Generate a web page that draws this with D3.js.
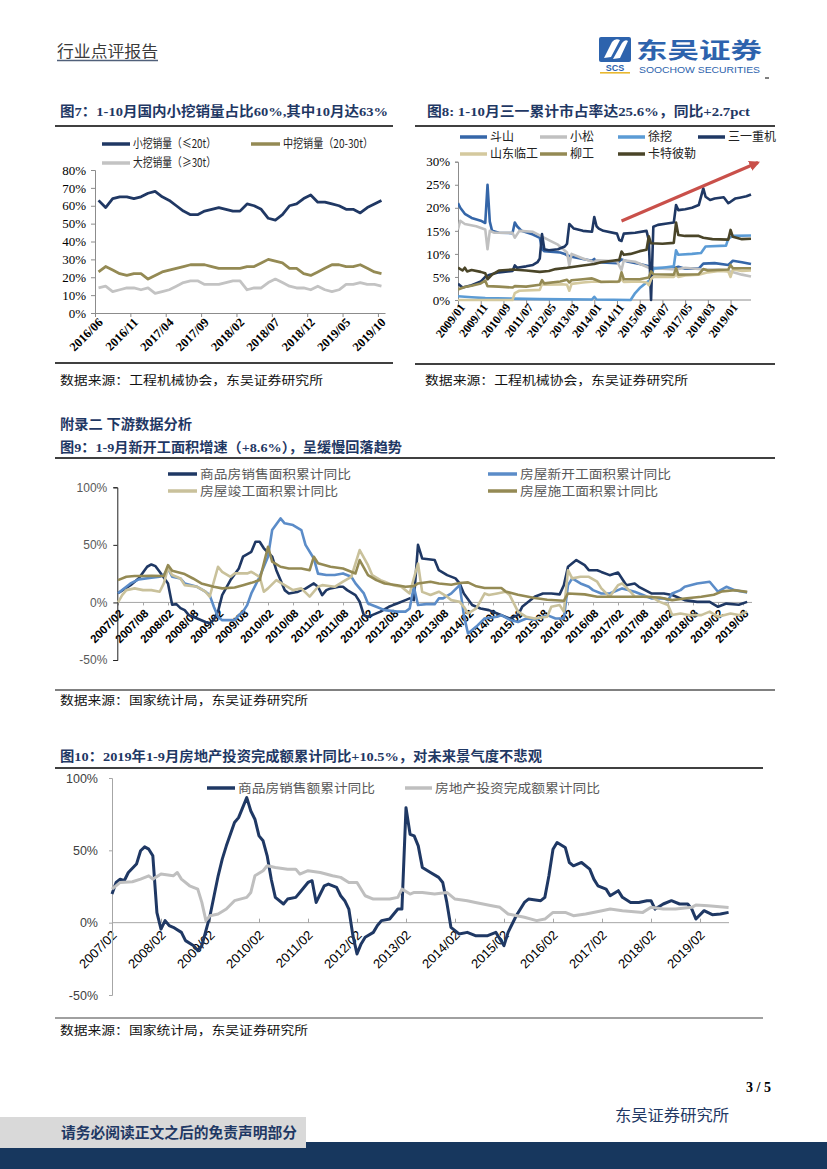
<!DOCTYPE html>
<html><head><meta charset="utf-8">
<script src="https://cdn.jsdelivr.net/npm/d3@7/dist/d3.min.js"></script>
<style>body{margin:0;background:#fff}svg{display:block}</style>
</head><body>
<script>
// ---------------- DATA ----------------
// Fig 7: monthly share of excavator sales by size, 2016/06 .. 2019/10 (41 months, %)
const c7Ticks = ["2016/06","2016/11","2017/04","2017/09","2018/02","2018/07","2018/12","2019/05","2019/10"];
const c7Small = [63,59,64,65,65,64,65,67,68,65,63,60,57,55,55,57,58,59,58,57,57,61,60,58,53,52,55,60,61,64,66,62,62,61,60,58,58,56,59,61,63];
const c7Mid   = [23,26,24,22,21,22,22,19,21,23,24,25,26,27,27,27,26,25,25,25,25,26,26,28,30,29,28,25,25,22,21,23,25,27,27,26,26,27,25,23,22];
const c7Large = [14,15,12,13,14,14,13,14,11,12,13,15,17,18,18,16,16,16,17,18,18,13,14,14,17,19,17,15,14,14,13,15,13,12,13,16,16,17,16,16,15];
const c7Names = ["小挖销量（≤20t）","中挖销量（20-30t）","大挖销量（≥30t）"];

// Fig 8: market share (%), [months since 2009/01, value]
const c8Ticks = ["2009/01","2009/11","2010/09","2011/07","2012/05","2013/03","2014/01","2014/11","2015/09","2016/07","2017/05","2018/03","2019/01"];
const c8Names = ["斗山","小松","徐挖","三一重机","山东临工","柳工","卡特彼勒"];
const c8Doosan = [[0,21],[1,20],[3,18.7],[6,17.8],[10,17.2],[12,16.7],[13,25],[14,17],[15,15],[18,14.6],[24,14.5],[25,16.8],[26,16],[28,15],[33,14.2],[36,13.5],[37,11],[38,10.6],[45,10.3],[47,10],[48,9.7],[50,9.4],[55,8.9],[59,8.5],[60,8.9],[61,8.2],[70,8],[72,8.8],[75,8.3],[80,7.8],[84,7.3],[86,7],[95,6.9],[97,7.2],[100,6.8],[106,6.8],[108,7.9],[113,8],[119,7.6],[121,8.5],[125,8.2],[129,7.8]];
const c8Komatsu = [[0,15.3],[1,17.2],[3,16.5],[8,16],[12,15.3],[13,11],[14,15],[16,14.6],[24,14.6],[25,13.5],[27,15],[33,14.8],[36,14],[40,13],[44,12],[48,10.3],[49,7.5],[50,10],[55,9],[60,8.2],[61,8.6],[70,8.4],[72,6.5],[73,8.6],[78,8.3],[84,7],[90,6.8],[96,6.6],[100,7],[108,6.6],[115,6.6],[120,6.2],[125,5.5],[129,5.1]];
const c8Xugong = [[0,0.8],[6,0.6],[12,0.4],[24,0.3],[36,0.2],[59,0.1],[60,0.7],[61,0.1],[76,0],[78,1.5],[80,2.6],[83,3.8],[85,4.5],[86,6.8],[90,7],[95,7.3],[96,10.8],[97,9.8],[103,10],[107,10.2],[109,11.6],[118,11.8],[119,13.3],[121,13.9],[129,14]];
const c8Sany = [[0,3.5],[2,2.7],[6,3.2],[10,4],[12,5],[14,5.5],[18,6],[24,6.3],[25,7.5],[26,7],[30,7.3],[33,7.6],[35,8.2],[36,9],[37,14.3],[38,11],[40,10.8],[44,11],[47,11.6],[48,12.2],[49,16.5],[51,15.5],[55,15],[59,14.8],[60,18],[61,16],[62,15.5],[64,15],[70,14.4],[71,13],[72,12.8],[73,14.4],[78,14.6],[83,15],[84,13],[85,0],[86,15.9],[88,16.3],[92,16.6],[95,16.8],[96,20.6],[97,19.5],[100,19.7],[103,20],[106,20.6],[108,24.2],[109,22.4],[111,21.7],[113,22],[117,22.3],[119,21],[120,21.3],[122,22],[124,22.2],[127,22.5],[129,22.9]];
const c8Lingong = [[0,0],[24,0],[25,1.5],[27,2],[36,2.2],[37,3.5],[38,3.3],[46,3.4],[48,3.3],[49,2],[50,3.5],[55,3.8],[60,4],[70,3.9],[72,4.5],[73,3.9],[80,4],[83,3.8],[84,3.2],[85,4.5],[86,5],[95,5],[96,5.6],[97,5],[100,5.3],[106,5.5],[110,6],[115,6.3],[119,6.2],[120,5],[121,6.6],[125,6.3],[129,6.4]];
const c8Liugong = [[0,2.3],[3,2.8],[6,3.1],[10,3.6],[12,4.2],[13,3],[18,2.9],[24,2.7],[25,3],[30,2.9],[36,3.3],[37,4.3],[38,3.6],[45,4],[48,4.4],[49,3.8],[50,4.3],[55,4.5],[59,4.7],[60,4.5],[63,3.9],[71,4],[72,6],[73,4.5],[80,4.5],[84,4.9],[85,6.2],[86,5.6],[95,5.5],[96,6.9],[97,5.5],[106,5.6],[108,6.7],[110,6.4],[119,6.6],[120,7.6],[121,6.9],[129,6.9]];
const c8Cat = [[0,7],[2,6.4],[3,7],[4,6.2],[6,6.5],[10,6.1],[12,5.8],[13,4.5],[15,5.5],[18,6.4],[24,6.6],[30,6.4],[36,6.1],[40,6.3],[43,6.7],[48,7],[55,7.5],[60,7.8],[63,8.2],[68,8.5],[71,8.7],[72,10.5],[73,9.8],[76,10],[80,10.6],[83,10.9],[84,13.8],[85,12.3],[90,12.2],[95,12.4],[96,16.8],[97,14.1],[100,13.9],[106,13.9],[108,13.5],[112,13.2],[119,13.1],[120,15.2],[121,13.7],[125,13.2],[129,13.3]];

// Fig 9: YoY (%), [months since 2007/02, value]
const c9Ticks = ["2007/02","2007/08","2008/02","2008/08","2009/02","2009/08","2010/02","2010/08","2011/02","2011/08","2012/02","2012/08","2013/02","2013/08","2014/02","2014/08","2015/02","2015/08","2016/02","2016/08","2017/02","2017/08","2018/02","2018/08","2019/02","2019/08"];
const c9Names = ["商品房销售面积累计同比","房屋新开工面积累计同比","房屋竣工面积累计同比","房屋施工面积累计同比"];
const c9Sales = [[0,8],[3,15],[5,21],[7,31],[8,33],[9,31.5],[10,26.6],[12,16.5],[13,-2],[14,-1.5],[15,-5],[16,-6.7],[17,-11],[19,-14],[21,-17],[22,-18],[23,-15],[24,-8],[25,6.4],[27,19.4],[29,29.5],[30,39.7],[32,44],[33,52.7],[34,52.7],[35,47],[37,39.7],[38,28],[39,19.4],[40,10.7],[41,7.8],[43,9],[44,10.7],[45,12],[47,16.5],[48,13.6],[49,6.4],[50,10.7],[51,12.2],[53,13.6],[54,13.6],[55,10.7],[57,6.4],[58,0.6],[59,-11],[60,-12.5],[61,-11],[63,-8],[65,-3.8],[66,-2.3],[67,-0.9],[69,2],[70,3.5],[71,2],[72,50],[73,38.2],[76,36.8],[77,28],[79,23.7],[81,20.9],[82,16.5],[83,7.8],[85,-2.3],[87,-5.2],[89,-6.7],[91,-9.6],[94,-13.9],[96,-11],[97,-3.8],[100,4.9],[102,7.8],[104,7.8],[106,7],[107,15],[108,31],[110,36.8],[112,32.4],[113,28],[115,28],[116,26.5],[118,23.7],[120,26],[122,15],[124,16.5],[125,13.6],[128,7.8],[131,7.8],[133,6.4],[136,2],[139,0.5],[142,0.5],[144,-3.8],[146,-1],[149,-2],[151,0.5]];
const c9Starts = [[0,8],[3,16.5],[5,20],[8,21.4],[10,22.3],[11,23.8],[12,29.5],[13,22.3],[15,20.8],[16,16.5],[19,13.6],[21,9.3],[22,6.4],[23,-3.8],[24,-12.5],[25,-15.4],[28,-15.4],[29,-11],[30,-8],[31,-2.3],[32,7.8],[34,22.3],[36,39.7],[37,62.9],[39,73],[40,68.7],[42,67.2],[44,62.9],[45,50],[47,38.2],[48,25],[50,23.8],[52,23.8],[54,25.2],[56,22.3],[57,16.5],[59,7.8],[60,-0.9],[62,-3.8],[64,-6.7],[67,-8],[69,-8],[70,-5.2],[71,13.6],[72,-2.3],[74,-1.5],[76,-1.5],[77,3.5],[78,3.5],[80,7.8],[82,15],[83,-11],[84,-27],[86,-21],[88,-14],[91,-12.5],[92,-11],[94,-15],[96,-17],[98,-14],[100,-15],[103,-11],[105,-14],[107,-14],[108,15],[109,20.9],[111,16.5],[113,13.6],[114,10.7],[116,7.8],[118,7.8],[121,12.2],[124,9.3],[126,6.4],[128,3.5],[131,3.5],[132,2],[133,7.8],[135,10.7],[136,13.6],[139,16.5],[142,18],[144,9.3],[146,13.6],[148,10.7],[151,8.6]];
const c9Completed = [[0,0],[1,6.4],[2,10.7],[4,12.2],[6,10.7],[8,10.7],[10,9.3],[11,16.5],[12,30],[13,23.8],[15,20.8],[16,15],[19,13.6],[21,9.3],[22,5],[24,31],[25,26.6],[27,22.3],[28,25.2],[31,25.2],[32,26.6],[34,22.3],[35,9.3],[36,12.2],[38,19.4],[40,15],[42,10.7],[44,12.2],[46,5],[48,13.6],[49,15],[52,13.6],[54,18],[56,22.3],[58,45.5],[60,32.4],[61,23.8],[63,19.4],[64,18],[66,15],[68,13.6],[69,10.7],[70,7.8],[72,33.8],[73,9.2],[75,6.4],[77,9.3],[79,5],[80,2],[82,0.5],[83,-3.8],[84,-9.6],[86,-5.2],[88,7.8],[89,6.4],[91,7.8],[93,9.3],[94,6.4],[96,-8],[98,-12.5],[100,-14],[103,-12.5],[104,-3.8],[106,-2.3],[107,-8],[108,28],[109,20.9],[111,22.3],[113,22.3],[115,18],[116,12.2],[118,5],[120,15],[121,16.5],[123,9.3],[124,5],[128,5],[130,0.5],[132,-2.3],[133,-11],[135,-9.6],[137,-11],[140,-11],[142,-8],[144,-12.5],[147,-9.6],[149,-11],[151,-8]];
const c9UnderConstr = [[0,19.4],[2,22.3],[4,22.9],[6,22.9],[8,23.2],[11,23],[12,32.4],[13,27.5],[16,24.6],[18,20.8],[20,16.5],[23,13.6],[25,12.2],[28,13],[30,15],[32,17],[34,19.4],[36,48.4],[37,35.4],[39,31],[41,29.5],[44,29.5],[46,28],[47,39.7],[48,34],[51,31],[54,29.5],[57,25.2],[58,36.8],[60,23.8],[62,19.4],[64,16.5],[67,15],[69,13.6],[71,14.2],[72,16.5],[75,18],[77,16.5],[80,15.4],[82,16.9],[84,17.4],[86,14],[88,12.5],[92,12.5],[93,9.6],[96,6.7],[100,3.8],[103,2.3],[107,1.4],[108,7.8],[112,7],[115,5],[118,4.9],[126,4.9],[130,4.3],[133,2],[136,3.4],[140,4.9],[143,6.7],[145,9.6],[148,10.6],[151,9.2]];

// Fig 10: YoY (%), [months since 2007/02, value]
const c10Ticks = ["2007/02","2008/02","2009/02","2010/02","2011/02","2012/02","2013/02","2014/02","2015/02","2016/02","2017/02","2018/02","2019/02"];
const c10Names = ["商品房销售额累计同比","房地产投资完成额累计同比"];
const c10Sales = [[0,19.8],[1,27.8],[2,30],[3,29],[4,34.7],[6,40.5],[7,49.7],[8,52.4],[9,50.8],[10,46.2],[11,7],[12,-4.4],[13,1.4],[14,-2],[15,-3.2],[17,-6.7],[18,-12.4],[20,-15.9],[21,-19.3],[22,-15.9],[24,4.8],[25,18.6],[26,32.4],[27,43.9],[28,53.1],[30,69.2],[31,72.6],[32,79.5],[33,86.4],[34,77.2],[35,71.5],[36,60],[37,56.6],[38,46.2],[39,30],[40,17.5],[42,12.9],[43,16.3],[45,17.5],[46,20.9],[48,27.8],[49,29],[50,14],[51,19.8],[52,25.5],[53,26.7],[55,24.4],[56,18.6],[57,15.2],[58,9.4],[59,-9],[60,-21.6],[61,-14.7],[62,-10.1],[64,-6.7],[65,-2],[66,1.4],[68,2.5],[69,6],[70,9.4],[71,9.4],[72,79.5],[73,61.1],[74,60],[75,53.1],[76,38.2],[78,34.7],[80,31.3],[81,27.8],[82,14],[83,-3.2],[85,-7.8],[87,-6.7],[89,-9],[92,-9],[94,-6.7],[95,-11.3],[96,-15.9],[97,-6.7],[99,4.8],[101,14],[102,16.3],[105,15.2],[106,17.5],[107,32.4],[108,50.8],[109,55.4],[111,52],[112,41.6],[113,39.3],[115,41.6],[117,37],[118,30.1],[119,25.5],[121,23.2],[122,18.6],[124,22.1],[125,17.5],[127,14],[129,14],[131,15.2],[132,15.2],[133,9.4],[135,12.9],[137,15.2],[139,12.9],[141,12.9],[142,9.4],[143,2.5],[145,8.3],[147,5.5],[149,6],[151,7.1]];
const c10Invest = [[0,23.2],[2,27.8],[5,28.3],[7,30.1],[9,32.4],[10,30.1],[12,33.6],[15,32.4],[16,34.7],[17,30.1],[19,25.5],[21,23.2],[22,14],[23,1.4],[24,4.8],[26,6],[28,9.4],[30,15.2],[33,17.5],[34,20.9],[35,32.4],[37,35.9],[38,39.3],[40,38.2],[43,37],[45,37],[46,33.6],[48,35.9],[51,34.7],[54,32.4],[56,31.3],[58,27.8],[60,27.8],[62,18.6],[64,16.3],[68,16.3],[70,17.5],[71,23.2],[73,19.8],[74,20.9],[76,20.9],[79,19.8],[82,20.9],[84,16.3],[87,15.2],[89,14],[93,11.7],[95,10.6],[97,6],[101,3.7],[104,1.4],[106,2.5],[108,7.1],[111,7.1],[113,4.8],[116,6],[120,8.3],[122,9.4],[125,8.3],[130,7.1],[132,10.6],[135,9.4],[138,9.4],[142,10.6],[143,12.2],[146,11.7],[151,10.5]];

// ---------------- DRAWING ----------------
const CJK = "'Noto Sans CJK SC','Noto Sans',sans-serif";
const SERIF = "'Liberation Serif','Noto Sans CJK SC',serif";
const SANS = "'Liberation Sans',Arial,sans-serif";
const NAVY = "#1f3864";

const svg = d3.select("body").append("svg").attr("width",827).attr("height",1169);

function txt(x,y,s,o={}){
  const t = svg.append("text").attr("x",x).attr("y",y).text(s)
    .attr("font-size",o.size||12).attr("fill",o.fill||"#000")
    .attr("font-weight",o.weight||"normal").attr("font-family",o.family||CJK)
    .attr("text-anchor",o.anchor||"start");
  if(o.len) t.attr("textLength",o.len).attr("lengthAdjust","spacingAndGlyphs");
  return t;
}
function hline(x1,x2,y,c,w){
  svg.append("line").attr("x1",x1).attr("x2",x2).attr("y1",y).attr("y2",y).attr("stroke",c).attr("stroke-width",w);
}
function legendItem(x1,x2,y,color,w,label,o){
  svg.append("line").attr("x1",x1).attr("x2",x2).attr("y1",y).attr("y2",y).attr("stroke",color).attr("stroke-width",w);
  txt(x2+(o.gap||3), y+(o.size||12)*0.36, label, o);
}
function styleAxis(g,o){
  g.select(".domain").attr("stroke",o.dom||"#888").attr("stroke-width",o.domW||1);
  g.selectAll(".tick line").attr("stroke",o.dom||"#888");
  g.selectAll("text").attr("font-family",o.family).attr("font-size",o.size).attr("fill",o.fill||"#000")
    .attr("font-weight",o.weight||"normal");
}
function rotLabels(g,dx,dy,ang){
  g.selectAll(".tick text").attr("x",0).attr("y",0).attr("dy","0.35em")
    .attr("transform",`translate(${dx},${dy}) rotate(${ang})`).style("text-anchor","end");
}

// ---- Header ----
txt(57,57,"行业点评报告",{size:15.5,fill:"#3a3a3a",len:101});
hline(57,158,60.5,"#50607a",1.6);
const logo = svg.append("g");
logo.append("rect").attr("x",599).attr("y",37).attr("width",32).attr("height",25).attr("rx",2).attr("fill","#2d63ad");
logo.append("path").attr("d","M604,58 L612,42 Q615,38 620,40 L611,57 Z M613,59 L622,43 Q625,39 628,41 L620,58 Z").attr("fill","#fff");
logo.append("text").attr("x",615).attr("y",71).attr("text-anchor","middle").attr("font-family",SANS).attr("font-weight","bold").attr("font-size",9).attr("fill","#2d63ad").text("SCS");
logo.append("rect").attr("x",600).attr("y",72).attr("width",30).attr("height",1.6).attr("fill","#e8b830");
txt(636,58,"东吴证券",{size:22,weight:"bold",fill:"#2d63ad",len:126});
txt(639,73,"SOOCHOW SECURITIES",{size:9,family:SANS,fill:"#2d63ad",len:121});
hline(765,769,78,"#000",1);

// ---- Figure 7 ----
txt(60,116,"图7：1-10月国内小挖销量占比60%,其中10月达63%",{size:13.5,weight:"bold",fill:NAVY,len:328,family:SERIF});
hline(55,393,126,"#000",1.3);
{
  const x = d3.scaleLinear().domain([0,c7Small.length]).range([95,385]);
  const y = d3.scaleLinear().domain([0,80]).range([313,170]);
  const gy = svg.append("g").attr("transform","translate(95,0)")
    .call(d3.axisLeft(y).tickValues(d3.range(0,81,10)).tickFormat(d=>d+"%").tickSize(4).tickPadding(5));
  styleAxis(gy,{family:SERIF,size:13,dom:"#8c8c8c"});
  const gx = svg.append("g").attr("transform","translate(0,313)")
    .call(d3.axisBottom(x).tickValues(d3.range(0,41,5)).tickFormat((d,i)=>c7Ticks[i]).tickSize(4).tickSizeOuter(0));
  styleAxis(gx,{family:SERIF,size:12.5,dom:"#8c8c8c",weight:"bold"});
  rotLabels(gx,5,7,-45);
  const series = [[c7Small,"#203864"],[c7Mid,"#948a54"],[c7Large,"#c3c3c3"]];
  const line = d3.line().x((d,i)=>x(i+0.5)).y(d=>y(d));
  series.slice().reverse().forEach(([data,c])=>{
    svg.append("path").attr("d",line(data)).attr("fill","none").attr("stroke",c).attr("stroke-width",2.8).attr("stroke-linejoin","round");
  });
  legendItem(102,130,144,"#203864",3.5,c7Names[0],{size:12,len:83,fill:"#222"});
  legendItem(251,280,144,"#948a54",3.5,c7Names[1],{size:12,len:90,fill:"#222"});
  legendItem(102,130,163,"#c3c3c3",3.5,c7Names[2],{size:12,len:83,fill:"#222"});
}
hline(55,393,363,"#000",1.3);
txt(60,384.5,"数据来源：工程机械协会，东吴证券研究所",{size:12,len:263,fill:"#111"});

// ---- Figure 8 ----
txt(427,116,"图8:  1-10月三一累计市占率达25.6%，同比+2.7pct",{size:13.5,weight:"bold",fill:NAVY,len:323,family:SERIF});
hline(415,775,126,"#000",1.3);
{
  const x = d3.scaleLinear().domain([0,129]).range([458,751]);
  const y = d3.scaleLinear().domain([0,30]).range([300,161.7]);
  const gy = svg.append("g").attr("transform","translate(458,0)")
    .call(d3.axisLeft(y).tickValues(d3.range(0,31,5)).tickFormat(d=>d+"%").tickSize(3).tickPadding(5));
  styleAxis(gy,{family:SERIF,size:13,dom:"#8c8c8c"});
  const gx = svg.append("g").attr("transform","translate(0,300)")
    .call(d3.axisBottom(x).tickValues(d3.range(0,121,10)).tickFormat((d,i)=>c8Ticks[i]).tickSize(4).tickSizeOuter(0));
  styleAxis(gx,{family:SERIF,size:12,dom:"#8c8c8c",weight:"bold"});
  gx.select(".domain").attr("d","M458,0H751");
  rotLabels(gx,4,5,-52);
  const cols = ["#3566a8","#c0c0c0","#5b9bd5","#1f3864","#d4c99e","#948a54","#4a4528"];
  const datas = [c8Doosan,c8Komatsu,c8Xugong,c8Sany,c8Lingong,c8Liugong,c8Cat];
  const line = d3.line().x(d=>x(d[0])).y(d=>y(d[1]));
  svg.append("clipPath").attr("id","c8clip").append("rect").attr("x",458).attr("y",150).attr("width",300).attr("height",152);
  datas.forEach((d,i)=>{
    svg.append("path").attr("d",line(d)).attr("fill","none").attr("stroke",cols[i]).attr("stroke-width",2.6).attr("stroke-linejoin","round").attr("clip-path","url(#c8clip)");
  });
  const lx = [460,540,618,698];
  c8Names.forEach((n,i)=>{
    const row = i<4?0:1;
    const xx = lx[i<4?i:(i-4)];
    legendItem(xx,xx+27,row?154:137,cols[i],3.5,n,{size:12,fill:"#222",gap:3});
  });
  // trend arrow
  svg.append("defs").append("marker").attr("id","arr").attr("viewBox","0 0 10 10").attr("refX",8).attr("refY",5)
    .attr("markerWidth",3.6).attr("markerHeight",3.6).attr("orient","auto")
    .append("path").attr("d","M0,0 L10,5 L0,10 Z").attr("fill","#c9504a");
  svg.append("line").attr("x1",621.5).attr("y1",221).attr("x2",758).attr("y2",162.5).attr("stroke","#c9504a").attr("stroke-width",3).attr("marker-end","url(#arr)");
}
hline(415,775,364,"#000",1.3);
txt(425,384.5,"数据来源：工程机械协会，东吴证券研究所",{size:12,len:263,fill:"#111"});

// ---- Figure 9 ----
txt(60,428.5,"附录二  下游数据分析",{size:13.5,weight:"bold",fill:NAVY,len:132,family:SERIF});
txt(60,451.5,"图9：1-9月新开工面积增速（+8.6%），呈缓慢回落趋势",{size:13.5,weight:"bold",fill:NAVY,len:342,family:SERIF});
hline(55,775,458,"#000",1.3);
{
  const x = d3.scaleLinear().domain([0,150]).range([118,743]);
  const y = d3.scaleLinear().domain([-50,100]).range([660,487.3]);
  const gx = svg.append("g").attr("transform",`translate(0,${y(0)})`)
    .call(d3.axisBottom(x).tickValues(d3.range(0,151,6)).tickFormat((d,i)=>c9Ticks[i]).tickSize(3).tickSizeOuter(0));
  styleAxis(gx,{family:SANS,size:11.5,dom:"#a6a6a6",weight:"bold"});
  gx.select(".domain").attr("d","M117,0H752");
  rotLabels(gx,3,9,-45);
  const gy = svg.append("g").attr("transform","translate(117.3,0)")
    .call(d3.axisLeft(y).tickValues([-50,0,50,100]).tickFormat(d=>d+"%").tickSize(4).tickPadding(6));
  styleAxis(gy,{family:SANS,size:12,dom:"#222",fill:"#595959"});
  const cols = ["#1f3864","#5b8cc8","#c9c19b","#948a54"];
  const datas = [c9Sales,c9Starts,c9Completed,c9UnderConstr];
  const line = d3.line().x(d=>x(d[0])).y(d=>y(d[1]));
  datas.forEach((d,i)=>{
    svg.append("path").attr("d",line(d)).attr("fill","none").attr("stroke",cols[i]).attr("stroke-width",2.6).attr("stroke-linejoin","round");
  });
  const o = {size:12.5,fill:"#595959"};
  legendItem(168,197,474,cols[0],3.5,c9Names[0],{...o,len:151});
  legendItem(488,517,474,cols[1],3.5,c9Names[1],{...o,len:151});
  legendItem(168,197,491,cols[2],3.5,c9Names[2],{...o,len:138});
  legendItem(488,517,491,cols[3],3.5,c9Names[3],{...o,len:138});
}
hline(55,775,690,"#808080",2);
txt(60,704.5,"数据来源：国家统计局，东吴证券研究所",{size:12,len:248,fill:"#111"});

// ---- Figure 10 ----
txt(60,761,"图10：2019年1-9月房地产投资完成额累计同比+10.5%，对未来景气度不悲观",{size:13.5,weight:"bold",fill:NAVY,len:482,family:SERIF});
hline(55,763,768,"#000",1.3);
{
  const x = d3.scaleLinear().domain([0,144]).range([112,700]);
  const y = d3.scaleLinear().domain([-50,100]).range([995,778]);
  const gx = svg.append("g").attr("transform",`translate(0,${y(0)})`)
    .call(d3.axisBottom(x).tickValues(d3.range(0,145,12)).tickFormat((d,i)=>c10Ticks[i]).tickSize(-4).tickSizeOuter(0));
  styleAxis(gx,{family:SANS,size:13,dom:"#a6a6a6"});
  gx.select(".domain").attr("d","M112,0H729");
  rotLabels(gx,2,10,-45);
  const gy = svg.append("g").attr("transform","translate(112,0)")
    .call(d3.axisLeft(y).tickValues([-50,0,50,100]).tickFormat(d=>d+"%").tickSize(3).tickPadding(11));
  styleAxis(gy,{family:SANS,size:12.5,dom:"#a6a6a6",fill:"#404040"});
  const cols = ["#1f3864","#bfbfbf"];
  const datas = [c10Sales,c10Invest];
  const line = d3.line().x(d=>x(d[0])).y(d=>y(d[1]));
  datas.forEach((d,i)=>{
    svg.append("path").attr("d",line(d)).attr("fill","none").attr("stroke",cols[i]).attr("stroke-width",3).attr("stroke-linejoin","round");
  });
  const o = {size:12.5,fill:"#595959"};
  legendItem(207,235,788,cols[0],3.5,c10Names[0],{...o,len:137});
  legendItem(405,432,788,cols[1],3.5,c10Names[1],{...o,len:165});
}
hline(55,763,1018,"#808080",1.6);
txt(60,1034.5,"数据来源：国家统计局，东吴证券研究所",{size:12,len:248,fill:"#111"});

// ---- Footer ----
txt(771,1092,"3 / 5",{size:14,weight:"bold",family:SERIF,anchor:"end"});
txt(615,1121,"东吴证券研究所",{size:15.5,fill:NAVY,len:114});
svg.append("rect").attr("x",0).attr("y",1142).attr("width",827).attr("height",27).attr("fill","#17375e");
svg.append("rect").attr("x",0).attr("y",1117).attr("width",306).attr("height",31).attr("fill","#d9d9d9");
txt(61,1138,"请务必阅读正文之后的免责声明部分",{size:14.5,weight:"bold",fill:NAVY,len:236});
</script>
</body></html>
